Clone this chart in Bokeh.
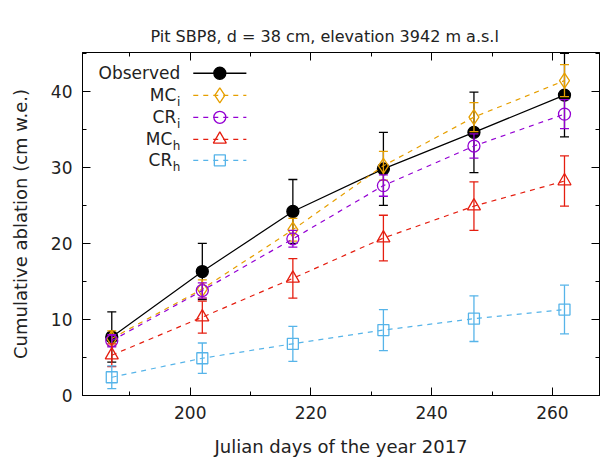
from bokeh.plotting import figure
from bokeh.models import LinearAxis, SingleIntervalTicker, Range1d, CustomJSTickFormatter
from bokeh.core.properties import value
from bokeh.embed import file_html
from bokeh.resources import INLINE

# ---------------- data ----------------
days = [187, 202, 217, 232, 247, 262]

obs = [7.7, 16.3, 24.2, 29.8, 34.6, 39.5]
obs_err = [3.3, 3.7, 4.2, 4.8, 5.3, 5.5]

mci = [7.5, 14.0, 21.8, 30.2, 36.6, 41.4]
mci_err = [1.0, 1.2, 1.5, 1.9, 1.9, 2.1]

cri = [7.2, 13.8, 20.6, 27.6, 32.8, 37.0]
cri_err = [0.8, 1.0, 1.1, 1.4, 1.6, 1.9]

mch = [5.3, 10.3, 15.4, 20.7, 24.9, 28.2]
mch_err = [1.5, 2.1, 2.6, 3.0, 3.2, 3.3]

crh = [2.4, 4.9, 6.8, 8.6, 10.1, 11.3]
crh_err = [1.5, 2.0, 2.3, 2.7, 3.0, 3.2]

legend_base = ["Observed", "MC", "CR", "MC", "CR"]
legend_sub = ["", "i", "i", "h", "h"]

title_text = "Pit SBP8, d = 38 cm, elevation 3942 m a.s.l"
xlabel = "Julian days of the year 2017"
ylabel = "Cumulative ablation (cm w.e.)"

FONT = "DejaVu Sans"

p = figure(width=600, height=460, output_backend="svg", toolbar_location=None,
           x_range=Range1d(182.15, 267.8), y_range=Range1d(0, 45.1),
           min_border_left=82, min_border_right=1, min_border_top=52,
           min_border_bottom=65)
p.title.text = title_text
p.title.text_font = FONT
p.title.text_font_size = "16px"
p.title.text_font_style = "normal"
p.title.text_color = "#222222"
p.title.align = "left"
p.title.offset = 68
p.title.standoff = 14

p.xgrid.visible = False
p.ygrid.visible = False
p.outline_line_color = "black"
p.outline_line_width = 1
p.background_fill_color = "white"
p.border_fill_color = "white"


def style_axis(ax, interval, show_labels=True):
    ax.ticker = SingleIntervalTicker(interval=interval, num_minor_ticks=2)
    ax.major_tick_in = 8
    ax.major_tick_out = 0
    ax.minor_tick_in = 4
    ax.minor_tick_out = 0
    ax.axis_line_color = "black"
    ax.major_tick_line_color = "black"
    ax.minor_tick_line_color = "black"
    ax.major_label_text_font = FONT
    ax.major_label_text_font_size = "17px"
    ax.major_label_text_color = "#222222"
    ax.axis_label_text_font = FONT
    ax.axis_label_text_font_size = "18px"
    ax.axis_label_text_font_style = "normal"
    ax.axis_label_text_color = "#222222"
    if not show_labels:
        ax.formatter = CustomJSTickFormatter(code="return ''")
        ax.major_label_standoff = 0


style_axis(p.xaxis[0], 20)
style_axis(p.yaxis[0], 10)
p.xaxis.axis_label = xlabel
p.yaxis.axis_label = ylabel
p.xaxis.major_label_standoff = 10
p.xaxis.axis_label_standoff = 14
p.yaxis.major_label_standoff = 10
p.yaxis.axis_label_standoff = 17

top_ax = LinearAxis()
style_axis(top_ax, 20, show_labels=False)
right_ax = LinearAxis()
style_axis(right_ax, 10, show_labels=False)
p.add_layout(top_ax, "above")
p.add_layout(right_ax, "right")

series = [
    (obs, obs_err, "black", "circle", True, "solid"),
    (mci, mci_err, "#E69F00", "diamond", False, "5 5"),
    (cri, cri_err, "#9400D3", "circle", False, "5 5"),
    (mch, mch_err, "#E51E10", "triangle", False, "5 5"),
    (crh, crh_err, "#56B4E9", "square", False, "5 5"),
]
msize = {"circle": 12, "diamond": 15, "triangle": 13, "square": 11}

for vals, err, col, mk, filled, dash in series:
    lo = [v - e for v, e in zip(vals, err)]
    hi = [v + e for v, e in zip(vals, err)]
    p.line(days, vals, line_color=col, line_width=1.2, line_dash=dash)
    p.segment(x0=days, y0=lo, x1=days, y1=hi, line_color=col, line_width=1.3)
    p.scatter(days, lo, marker="dash", size=9, line_color=col, line_width=1.3)
    p.scatter(days, hi, marker="dash", size=9, line_color=col, line_width=1.3)
    p.scatter(days, vals, marker=mk, size=msize[mk], line_color=col, line_width=1.3,
              fill_color=col if filled else None)

# ---------------- legend (drawn by hand, gnuplot style) ----------------
leg_x_text = 198.35
leg_x0, leg_x1, leg_xm = 200.5, 209.3, 204.9
leg_y = [42.37, 39.47, 36.58, 33.68, 30.92]
sub_w = {"": 0, "i": 4, "h": 8}

for i, (vals, err, col, mk, filled, dash) in enumerate(series):
    yy = leg_y[i]
    sub = legend_sub[i]
    p.text(x=[leg_x_text], y=[yy], text=[legend_base[i]], text_align="right",
           text_baseline="middle", text_font=value(FONT), text_font_size="17px",
           text_color="#222222", x_offset=-sub_w[sub])
    if sub:
        p.text(x=[leg_x_text], y=[yy], text=[sub], text_align="right",
               text_baseline="middle", text_font=value(FONT), text_font_size="12px",
               text_color="#222222", y_offset=7)
    p.line([leg_x0, leg_x1], [yy, yy], line_color=col, line_width=1.3, line_dash=dash)
    p.scatter([leg_xm], [yy], marker=mk, size=msize[mk], line_color=col, line_width=1.3,
              fill_color=col if filled else None)

open("out.html", "w").write(file_html(p, INLINE))
